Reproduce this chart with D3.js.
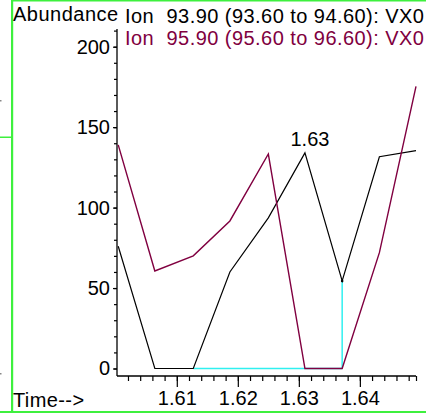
<!DOCTYPE html>
<html>
<head>
<meta charset="utf-8">
<script src="https://cdn.jsdelivr.net/npm/d3@7"></script>
<style>
  html, body { margin: 0; padding: 0; background: #fff; }
  text { font-family: "Liberation Sans", Arial, sans-serif; }
</style>
</head>
<body>
<svg id="chart" width="426" height="413"></svg>
<script>
// sample times (min) and abundance for both ions
const times = [1.6004, 1.6064, 1.6127, 1.6187, 1.6250, 1.6310, 1.6371, 1.6432, 1.6492];
const ion939 = [76, 0, 0, 60, 93.6, 134, 54.4, 131.6, 135.4];
const ion959 = [139, 60.6, 70, 91.7, 133.3, 0, 0, 72, 175.4];
const legendLabels = ["93.90 (93.60 to 94.60): VX0", "95.90 (95.60 to 96.60): VX0"];
const xMajorTicks = [1.61, 1.62, 1.63, 1.64];
const yMajorTicks = [0, 50, 100, 150, 200];
const integStart = 2, integEnd = 6;   // baseline drawn under ion 93.90

const svg = d3.select("#chart");
const FONT = "20px";

// frame bits
const green = "#3ef03e";
svg.append("rect").attr("x", 11).attr("y", 0).attr("width", 2.2).attr("height", 412).attr("fill", green);
svg.append("rect").attr("x", 11).attr("y", 0).attr("width", 415).attr("height", 1.5).attr("fill", green);
svg.append("rect").attr("x", 0).attr("y", 411).attr("width", 426).attr("height", 2).attr("fill", green);
svg.append("rect").attr("x", 0).attr("y", 136.5).attr("width", 11).attr("height", 1.5).attr("fill", green);
svg.append("rect").attr("x", 0).attr("y", 100).attr("width", 1.5).attr("height", 1.5).attr("fill", "#888");
svg.append("rect").attr("x", 0).attr("y", 373).attr("width", 1.5).attr("height", 1.5).attr("fill", "#888");

const x = d3.scaleLinear().domain([1.6002, 1.6492]).range([117, 416]);
const y = d3.scaleLinear().domain([0, 211]).range([368.5, 29]);
const x0 = 117, yAxisPos = 376;

// y axis
const yMinor = svg.append("g").attr("transform", `translate(${x0},0)`)
    .call(d3.axisLeft(y).tickValues(y.ticks(20)).tickSize(3).tickSizeOuter(0).tickFormat(""));
yMinor.select(".domain").remove();
const yAx = svg.append("g").attr("transform", `translate(${x0},0)`)
    .call(d3.axisLeft(y).tickValues(yMajorTicks).tickSize(4).tickPadding(3).tickSizeOuter(0));
yAx.select(".domain").remove();
yAx.selectAll("text").style("font-size", FONT).attr("fill", "#000");
svg.append("line").attr("x1", x0).attr("x2", x0).attr("y1", 29).attr("y2", yAxisPos)
    .attr("stroke", "#000").attr("stroke-width", 1.3);

// x axis
const xMinor = svg.append("g").attr("transform", `translate(0,${yAxisPos})`)
    .call(d3.axisBottom(x).tickValues(x.ticks(25).concat([x.domain()[1]])).tickSize(5).tickSizeOuter(0).tickFormat(""));
xMinor.select(".domain").remove();
const xAx = svg.append("g").attr("transform", `translate(0,${yAxisPos})`)
    .call(d3.axisBottom(x).tickValues(xMajorTicks).tickSize(11).tickPadding(4).tickSizeOuter(0).tickFormat(d3.format(".2f")));
xAx.select(".domain").remove();
xAx.selectAll("text").style("font-size", FONT).attr("fill", "#000");
svg.append("line").attr("x1", x0).attr("x2", 416).attr("y1", yAxisPos).attr("y2", yAxisPos)
    .attr("stroke", "#000").attr("stroke-width", 1.3);
svg.selectAll(".tick line").attr("stroke-width", 1.2);

// integration baseline
const cyan = "#30f0f0";
svg.append("line")
    .attr("x1", x(times[integStart])).attr("x2", x(times[integEnd]))
    .attr("y1", y(0)).attr("y2", y(0))
    .attr("stroke", cyan).attr("stroke-width", 1.5);
svg.append("line")
    .attr("x1", x(times[integEnd])).attr("x2", x(times[integEnd]))
    .attr("y1", y(0)).attr("y2", y(ion939[integEnd]))
    .attr("stroke", cyan).attr("stroke-width", 1.5);

const line = d3.line().x((d, i) => x(times[i])).y(d => y(d));

svg.append("path").datum(ion939).attr("d", line)
    .attr("fill", "none").attr("stroke", "#000").attr("stroke-width", 1.2);
svg.append("path").datum(ion959).attr("d", line)
    .attr("fill", "none").attr("stroke", "#800040").attr("stroke-width", 1.4);

svg.append("circle").attr("cx", x(times[integEnd])).attr("cy", y(ion939[integEnd]))
    .attr("r", 1.3).attr("fill", "#000");

// peak label
const pk = d3.maxIndex(ion939.slice(0, 7));
svg.append("text")
    .attr("x", x(times[pk]) + 5).attr("y", y(ion939[pk]) - 7)
    .attr("text-anchor", "middle").style("font-size", FONT)
    .text(times[pk].toFixed(2));

// labels
svg.append("text").attr("x", 13).attr("y", 21).style("font-size", FONT)
    .style("letter-spacing", "0.5px").text("Abundance");
svg.append("text").attr("x", 13).attr("y", 407).style("font-size", FONT)
    .style("letter-spacing", "0.4px").text("Time-->");
const legColors = ["#000", "#800040"];
legendLabels.forEach((s, i) => {
    const t = svg.append("text").attr("y", 23 + i * 22)
        .attr("fill", legColors[i]).style("font-size", FONT)
        .style("letter-spacing", "0.45px");
    t.append("tspan").attr("x", 125).text("Ion");
    t.append("tspan").attr("x", 166.5).text(s);
});
</script>
</body>
</html>
